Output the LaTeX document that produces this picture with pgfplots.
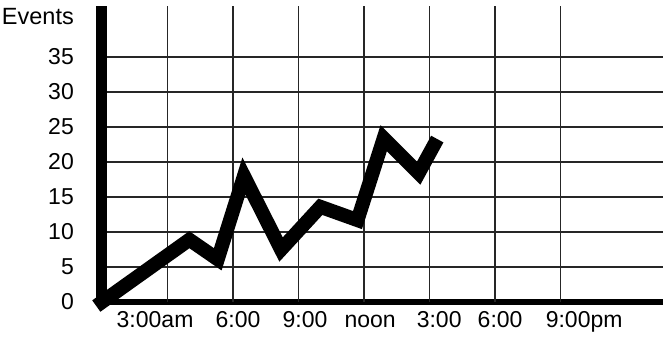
\documentclass[border=0pt]{standalone}
\usepackage{fontspec}
\setmainfont{Liberation Sans}
\usepackage{pgfplots}
\pgfplotsset{compat=1.18}
\begin{document}
\begin{tikzpicture}
\begin{axis}[
  scale only axis,
  width=561pt, height=296pt,
  xmin=0, xmax=25.69,
  ymin=0, ymax=42.29,
  clip=false,
  axis lines=left,
  axis line style={-},
  x axis line style={line width=6pt},
  y axis line style={line width=11pt},
  major tick length=0pt,
  tick style={draw=none},
  /pgf/number format/assume math mode=true,
  tick label style={font=\fontsize{23}{27}\selectfont},
  ytick={0,5,10,15,20,25,30,35},
  ymajorgrids=true,
  yticklabel style={anchor=east, inner sep=0pt, xshift=-28pt},
  xtick={2.43,6.23,9.30,12.28,15.44,18.23,22.08},
  xticklabels={3:00am,6:00,9:00,noon,3:00,6:00,9:00pm},
  xmajorgrids=false,
  xticklabel style={anchor=base, inner sep=0pt, yshift=-26pt},
  extra x ticks={3,6,9,12,15,18,21},
  extra x tick labels={},
  extra x tick style={grid=major},
  grid style={line width=1.6pt, black!85},
  ylabel={Events},
  ylabel style={at={(axis description cs:0,1)}, rotate=-90, anchor=north east, inner sep=0pt, xshift=-28pt, yshift=-2pt, font=\fontsize{23.5}{27}\selectfont},
]
\addplot[black, line width=14pt, line join=miter, line cap=rect] coordinates {
  (0,0) (4.0,8.9) (5.3,6.1) (6.5,18.0) (8.2,7.5) (10.0,13.6) (11.7,11.7) (12.9,23.4) (14.5,18.4) (15.2,22.4)
};
\end{axis}
\pgfresetboundingbox
\path[use as bounding box] (-102pt,-40pt) rectangle (562pt,302pt);
\end{tikzpicture}
\end{document}
